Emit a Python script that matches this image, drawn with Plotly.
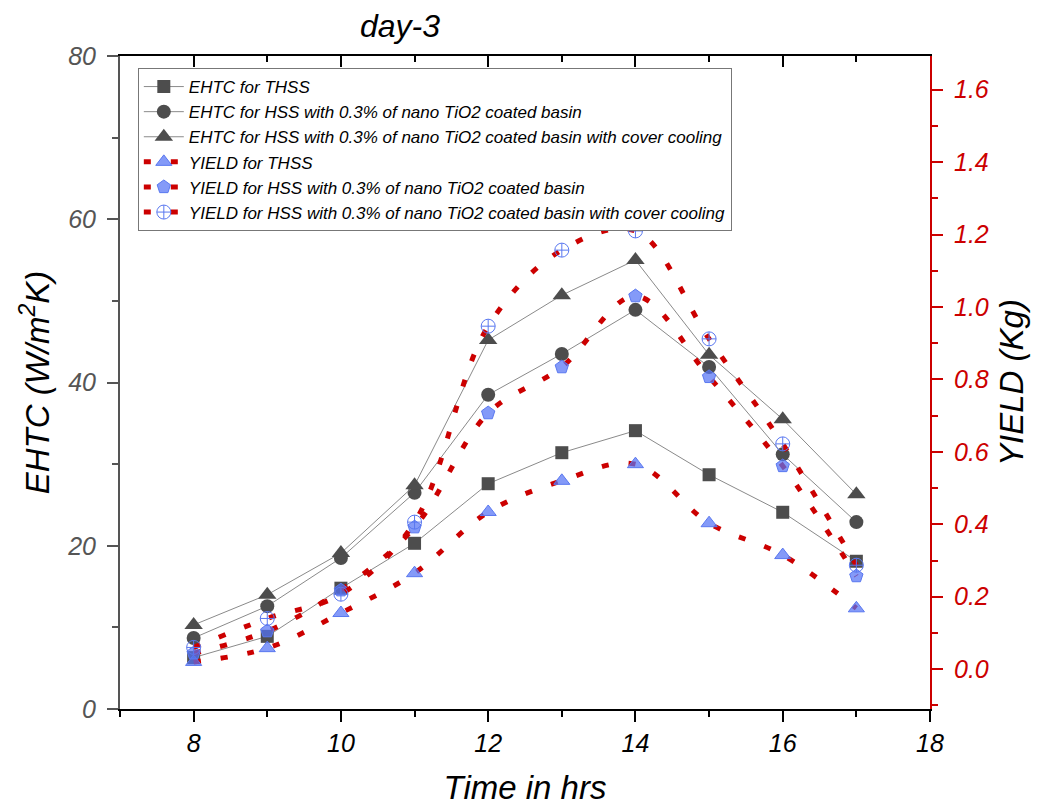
import plotly.graph_objects as go

hours = [8, 9, 10, 11, 12, 13, 14, 15, 16, 17]

ehtc_thss = [6.3, 8.9, 14.8, 20.3, 27.6, 31.4, 34.1, 28.7, 24.1, 18.1]
ehtc_hss = [8.7, 12.6, 18.5, 26.5, 38.5, 43.5, 48.9, 41.9, 31.2, 22.9]
ehtc_hss_cc = [10.3, 14.0, 19.1, 27.4, 45.2, 50.7, 55.0, 43.4, 35.5, 26.3]

yield_thss = [0.02, 0.058, 0.155, 0.265, 0.434, 0.52, 0.566, 0.403, 0.315, 0.168]
yield_hss = [0.044, 0.105, 0.218, 0.392, 0.707, 0.834, 1.03, 0.807, 0.561, 0.257]
yield_hss_cc = [0.06, 0.14, 0.207, 0.406, 0.947, 1.157, 1.21, 0.912, 0.622, 0.287]

names_ehtc = [
    "EHTC for THSS",
    "EHTC for HSS with 0.3% of nano TiO2 coated basin",
    "EHTC for HSS with 0.3% of nano TiO2 coated basin with cover cooling",
]
names_yield = [
    "YIELD for THSS",
    "YIELD for HSS with 0.3% of nano TiO2 coated basin",
    "YIELD for HSS with 0.3% of nano TiO2 coated basin with cover cooling",
]

FONT = "Liberation Sans, Arial, sans-serif"
GRAY = "#4d4d4d"
BLUE = "#5a78f0"
RED = "#cc0000"

fig = go.Figure()

for vals, name, sym, sz in zip(
    [ehtc_thss, ehtc_hss, ehtc_hss_cc], names_ehtc,
    ["square", "circle", "triangle-up"], [13, 14, 16]):
    fig.add_trace(go.Scatter(
        x=hours, y=vals, name=name, mode="lines+markers",
        line=dict(color="#8a8a8a", width=1),
        marker=dict(symbol=sym, size=sz, color=GRAY, line=dict(width=0)),
        xaxis="x", yaxis="y"))

for vals, name, sym, col in zip(
    [yield_thss, yield_hss, yield_hss_cc], names_yield,
    ["triangle-up", "pentagon", "circle-cross-open"],
    ["rgba(85,115,245,0.72)", "rgba(85,115,245,0.72)", BLUE]):
    fig.add_trace(go.Scatter(
        x=hours, y=vals, name=name, mode="lines+markers",
        line=dict(color=RED, width=5, dash="7px,20px", shape="spline", smoothing=1),
        marker=dict(symbol=sym, size=14, color=col, line=dict(color=BLUE, width=1)),
        xaxis="x", yaxis="y2"))

# invisible trace to activate top axis
fig.add_trace(go.Scatter(x=[hours[0]], y=[0], xaxis="x2", yaxis="y",
                         mode="markers", marker=dict(opacity=0),
                         showlegend=False, hoverinfo="skip"))

fig.update_layout(
    width=1044, height=812,
    margin=dict(l=120, r=114, t=56, b=103),
    paper_bgcolor="white", plot_bgcolor="white",
    font=dict(family=FONT, color="black"),
    showlegend=True,
    legend=dict(
        x=0.022, y=0.9816, xanchor="left", yanchor="top",
        bgcolor="white", bordercolor="#777777", borderwidth=1,
        font=dict(family=FONT, size=17, color="black", style="italic"),
        tracegroupgap=0, itemwidth=40,
    ),
    xaxis=dict(
        range=[7, 18], dtick=2, tick0=8,
        ticks="outside", ticklen=11, tickwidth=2, tickcolor="black",
        minor=dict(dtick=1, ticks="outside", ticklen=6, tickwidth=2, tickcolor="black"),
        showline=True, linecolor="black", linewidth=2,
        showgrid=False, zeroline=False,
        tickfont=dict(family=FONT, size=25, color="black", style="italic"),
        title=dict(text="Time in hrs", standoff=20,
                   font=dict(family=FONT, size=33, color="black", style="italic")),
    ),
    xaxis2=dict(
        range=[7, 18], dtick=2, tick0=8, overlaying="x", side="top",
        ticks="inside", ticklen=11, tickwidth=2, tickcolor="black",
        minor=dict(dtick=1, ticks="inside", ticklen=6, tickwidth=2, tickcolor="black"),
        showline=True, linecolor="black", linewidth=2,
        showticklabels=False, showgrid=False, zeroline=False,
    ),
    yaxis=dict(
        range=[0, 80], dtick=20,
        ticks="outside", ticklen=11, tickwidth=2, tickcolor="#555555",
        minor=dict(dtick=10, ticks="outside", ticklen=6, tickwidth=2, tickcolor="#555555"),
        showline=True, linecolor="#555555", linewidth=2,
        showgrid=False, zeroline=False, ticklabelstandoff=6,
        tickfont=dict(family=FONT, size=25, color="#555555", style="italic"),
        title=dict(text="EHTC (W/m<sup>2</sup>K)", standoff=8,
                   font=dict(family=FONT, size=33, color="black", style="italic")),
    ),
    yaxis2=dict(
        range=[-0.11, 1.693], dtick=0.2, tick0=0, overlaying="y", side="right",
        ticks="outside", ticklen=11, tickwidth=2, tickcolor=RED,
        minor=dict(dtick=0.1, ticks="outside", ticklen=6, tickwidth=2, tickcolor=RED),
        showline=True, linecolor=RED, linewidth=2,
        showgrid=False, zeroline=False, tickformat=".1f", ticklabelstandoff=6,
        tickfont=dict(family=FONT, size=25, color=RED, style="italic"),
        title=dict(text="YIELD (Kg)", standoff=12,
                   font=dict(family=FONT, size=33, color="black", style="italic")),
    ),
    annotations=[dict(
        text="day-3", x=(400 - 120) / 810, y=(709 - 26) / 653,
        xref="paper", yref="paper",
        showarrow=False, xanchor="center", yanchor="middle",
        font=dict(family=FONT, size=32, color="black", style="italic"))],
)

fig.write_html("out.html")
